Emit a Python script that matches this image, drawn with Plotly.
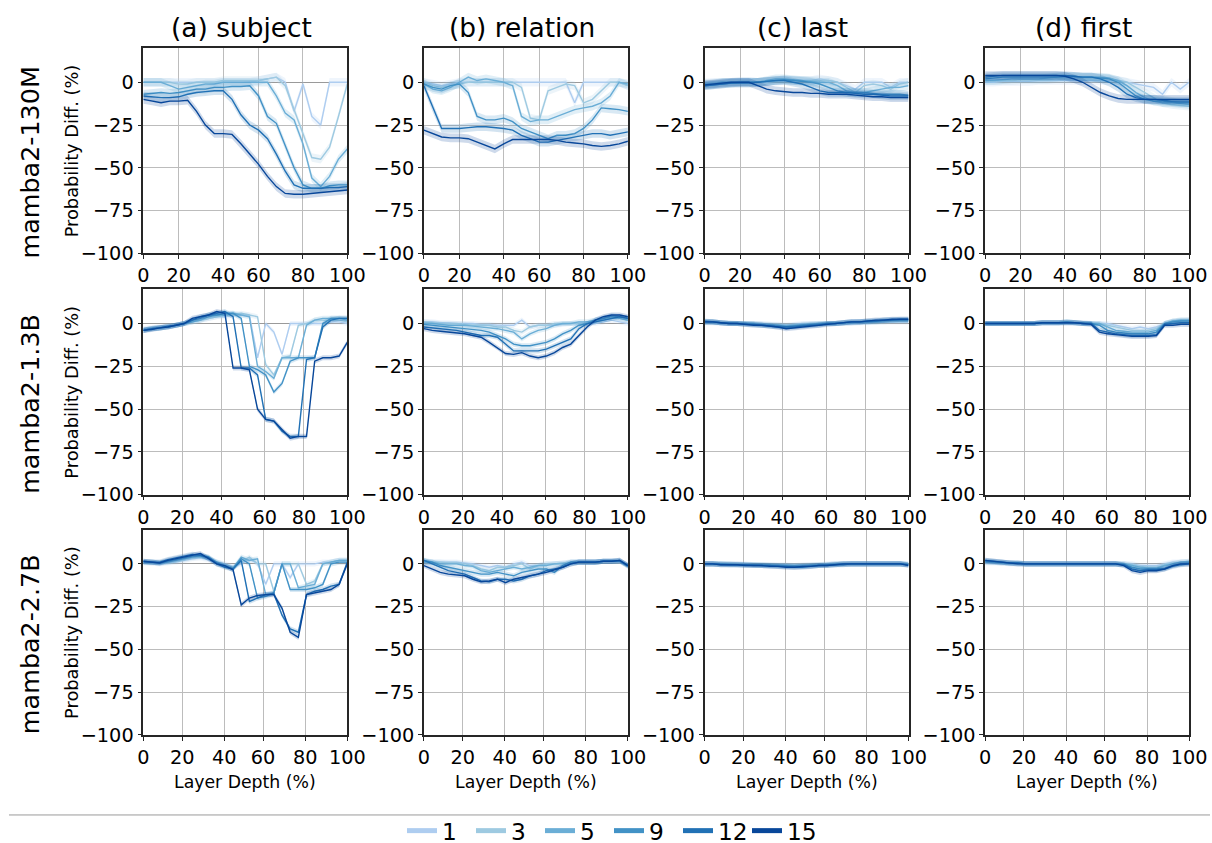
import plotly.graph_objects as go
from plotly.subplots import make_subplots

# ---------------- data ----------------
WINDOWS = ["1", "3", "5", "9", "12", "15"]
MODELS = ["mamba2-130M", "mamba2-1.3B", "mamba2-2.7B"]
TOKENS = ["(a) subject", "(b) relation", "(c) last", "(d) first"]
N_LAYERS = [24, 48, 64]
BAND = [2.5, 1.5, 1.5]   # half-width of the shaded band per model

# x positions (layer depth %) – 130M: every layer, larger models: read every 4 %
X_130M = [i / (N_LAYERS[0] - 1) * 100 for i in range(N_LAYERS[0])]
X_GRID = [0, 4, 8, 12, 16, 20, 24, 28, 32, 36, 40, 44, 48, 52, 56, 60, 64, 68, 72, 76, 80, 84, 88, 92, 96, 100]

SUBJECT_130M = {
    "1":  [0, 0, 0, 0, 0, 0, 0, 0, 0, 0, 0, 0, 0, 1, 2, 3, 0, -17, -1, -20, -25, 0, 0, 0],
    "3":  [0, 0, 0, 0, -1, -1, 0, 0, 0, 1, 1, 1, 1, 1, 2, 3, -2, -16, -30, -44, -45, -38, -20, -1],
    "5":  [0, 0, 0, -2, -4, -3, -2, -1, -1, 0, 0, 0, 0, 0, 0, -8, -18, -22, -36, -56, -61, -55, -45, -39],
    "9":  [-7, -6.5, -6, -6.5, -6, -5, -4, -4, -3, -3, -2.5, -2.5, -2, -8, -20, -24, -37, -50, -60, -62, -62, -60.5, -60, -60],
    "12": [-8, -8.5, -9, -9, -8.5, -7, -6, -5.5, -5, -5, -10, -19, -25, -28, -33, -42, -52, -60, -62, -62, -62, -61.5, -61.5, -61],
    "15": [-10, -11, -12, -11, -11, -10.5, -17, -25, -30, -30, -30.5, -36, -42, -48, -55, -61, -65, -65.5, -65.5, -65, -64.5, -64, -63.5, -63],
}
RELATION_130M = {
    "1":  [0, -1, -2, -1, 0, 0, 0, 0, 0, 0, 0, 0, 0, 0, 0, 0, 0, -12, 0, 0, 0, 0, 0, -2],
    "3":  [0, -2, -3, -2, -1, 0, 0, 0, 0, 0, 0, -3, -21, -22, -5, -3, -1, -2, -12, -10, -5, 0, 0, -2],
    "5":  [-1, -4, -5, -3, 0, 3, 1, 2, 1, 0, -2, -20, -23, -22, -22, -20, -18, -16, -15, -14, -12, -8, 0, -1],
    "9":  [-1, -3, -4, -2, -1, -6, -20, -22, -22, -21, -23, -27, -29, -31, -33, -31, -31, -30, -27, -22, -15, -15.5, -16, -17],
    "12": [-2, -15, -27, -27, -27, -26.5, -26, -26, -26.5, -27, -28, -31, -33, -35, -35, -34, -33, -32, -31, -30, -30, -31, -30, -29],
    "15": [-28, -30, -32, -32.5, -32.5, -33, -35, -37, -39, -36, -33.5, -33.5, -33.5, -33.5, -33.5, -34, -35, -35.5, -36, -37, -37.5, -37, -36, -34.5],
}
LAST_130M = {
    "1":  [-0.5, 0, 0, 0, 0.5, 0.5, 0, 0, 0.5, 1, 1, 1, 1, 2, 1, 0, -2, -4, 0, 0, 0, -3, 0, 0],
    "3":  [-1, -0.5, 0, 0, 0.5, 0.5, 0, 0.5, 1, 1.5, 1, 1, 1, 1, 1, 0, -3, -6, -2, -1, -2, -4, -1, 0],
    "5":  [-1, -1, 0, 0, 0, 0, 0, 1, 2, 2, 1.5, 1, 0.5, 0, 0, -2, -5, -6, -6, -5, -4, -3, -3, -2],
    "9":  [-2, -1.5, -1, -0.5, 0, 0, 0, 0.5, 1, 1.5, 1, 0.5, 0, -1, -3, -5, -6, -6, -6, -6.5, -7, -7, -7, -7.5],
    "12": [-2, -1.5, -1, -0.5, -0.5, -0.5, 0, 0.5, 1, 1, 0, -1, -3, -5, -6, -6, -6, -6.5, -7, -7, -7.5, -8, -8, -8],
    "15": [-1.5, -1, -0.5, 0, 0, 0, -2, -4, -5, -5.5, -6, -6, -6.5, -6.5, -7, -7, -7, -7.5, -8, -8.5, -8.5, -9, -9, -9],
}
FIRST_130M = {
    "1":  [0, 0, 0.5, 0.5, 0.5, 0.5, 1, 1, 1, 1, 1, 1, 1, 1, 1, 1, 0, -1, -2, -3, -7, 0, -4, 0],
    "3":  [1, 1, 1, 1, 1.5, 1.5, 1.5, 1.5, 2, 2, 2, 2, 2, 2, 2, 1, 0, -3, -6, -9, -12, -13, -13.5, -14],
    "5":  [1, 1, 1.5, 2, 2, 2, 2, 2.5, 3, 3, 3, 3, 3, 3, 2.5, 1, -2, -6, -9, -11, -12, -12, -12.5, -13],
    "9":  [2, 2.5, 3, 3, 3, 3, 3, 3, 3, 3.5, 3.5, 3, 3, 2.5, 2, 0, -4, -8, -10, -11, -11, -11.5, -12, -12],
    "12": [3, 3.5, 4, 4, 4, 4, 4, 4, 4, 4, 3.5, 3, 3, 2, 0, -3, -7, -9, -10, -10, -10.5, -11, -11, -11],
    "15": [4, 4, 4, 4, 4, 4, 4, 4, 4, 3.5, 2, 0, -3, -6, -8, -9.5, -10, -10, -10, -10, -10, -10, -10, -10],
}

SUBJECT_1_3B = {
    "1":  [-3, -2.5, -2, -1.5, -1, 0, 1, 2, 3, 4, 4, 5, 5, 5, -20, 0, -5, -18, 0, 0, 0, 0, 0, 1, 1, 0],
    "3":  [-3.5, -3, -2.5, -2, -1, 0, 1, 2, 3, 4, 5, 5, 6, 5, 4, -24, -30, -20, -19, -1, 0, 2, 2, 2, 2, 1],
    "5":  [-4, -3, -2.5, -2, -1, 0, 1, 2, 4, 5, 5, 6, 5, 4, -25, -28, -32, -20, -20, -20, -1, 2, 3, 3, 3, 2],
    "9":  [-4, -3, -2.5, -2, -1, 0, 2, 3, 5, 5, 6, 6, 3, -25, -27, -30, -40, -35, -22, -20, -20, -20, 0, 3, 3, 3],
    "12": [-4, -3, -2.5, -1.5, -1, 0, 2, 4, 5, 6, 7, 4, -26, -26, -30, -56, -57, -63, -66, -66, -21, -20, -2, 2, 3, 3],
    "15": [-4, -3.5, -2.5, -2, -1, 0, 3, 4, 5, 7, 6, -26, -26, -27, -50, -56, -57, -62, -67, -66, -66, -22, -20, -20, -19, -11],
}
RELATION_1_3B = {
    "1":  [1, 1, 0.5, 0.5, 0, 0, 0, -0.5, -0.5, -1, -1, -1, 2, -2, -1, -1, -1, -0.5, 0, 0, 0, 0, 1, 2, 1, 0],
    "3":  [1, 0.5, 0, 0, 0, -0.5, -1, -1, -1, -2, -2, -4, -5, -2, -1, -1, 0, 0, 0, 0, 0, 1, 2, 3, 3, 2],
    "5":  [0, 0, -0.5, -1, -1, -1, -1.5, -2, -2.5, -3, -4, -5, -9, -6, -4, -3, -1, 0, 0, 1, 1, 2, 3, 4, 3, 2],
    "9":  [-0.5, -1, -1.5, -2, -2.5, -3, -3.5, -4, -5, -7, -9, -12, -13, -13, -12, -11, -9, -6, -4, -1, 0, 2, 3, 4.5, 4, 3],
    "12": [-2, -2.5, -3, -3.5, -4, -5, -6, -7, -7, -8, -12, -16, -16, -16, -16, -15, -13, -11, -9, -3, 0, 1, 2, 3, 4, 3],
    "15": [-3, -4, -4.5, -5, -5.5, -6, -7, -8, -11, -14, -17.5, -18, -17, -19, -20, -19, -17, -14, -12, -7, -2, 2, 4, 5, 5, 4],
}
LAST_1_3B = {
    "1":  [0.5, 0.5, 0, 0, 0, 0, 0, 0, -0.5, -0.5, -1, -0.5, 0, 0, 0, 0, 0, 0, 0, 0.5, 0.5, 1, 1, 1, 1, 1],
    "3":  [0.5, 0.5, 0.5, 0, 0, 0, 0, -0.5, -0.5, -1, -1, -1, -0.5, 0, 0, 0, 0, 0, 0.5, 0.5, 1, 1, 1, 1.5, 1.5, 1.5],
    "5":  [1, 1, 0.5, 0.5, 0, 0, 0, -0.5, -1, -1, -1.5, -1, -1, -0.5, 0, 0, 0, 0.5, 0.5, 1, 1, 1, 1.5, 2, 2, 2],
    "9":  [1.5, 1, 0.5, 0, 0, 0, -0.5, -1, -1, -1.5, -2, -1.5, -1, -1, -0.5, 0, 0, 0.5, 1, 1, 1, 1.5, 2, 2, 2, 2],
    "12": [1, 1, 0.5, 0, 0, -0.5, -0.5, -1, -1.5, -2, -2, -2, -1.5, -1, -1, 0, 0, 0.5, 1, 1, 1.5, 1.5, 2, 2, 2.5, 2.5],
    "15": [1, 1, 0.5, 0, 0, -0.5, -1, -1, -1.5, -2, -3, -2.5, -2, -1.5, -1, -0.5, 0, 0.5, 1, 1, 1.5, 2, 2, 2.5, 2.5, 2.5],
}
FIRST_1_3B = {
    "1":  [0, 0, 0, 0, 0, 0, 0, 0.5, 0.5, 0.5, 0.5, 0.5, 0.5, 0, 0, 0, -1, -2, -3, -2, -3, -2, 0, 1, 1.5, 2],
    "3":  [0, 0, 0, 0, 0, 0, 0, 0.5, 0.5, 0.5, 1, 0.5, 0.5, 0, 0, -1, -2, -3, -4, -4, -4, -3, 0, 1.5, 2, 2],
    "5":  [0, 0, 0, 0, 0, 0, 0, 0.5, 0.5, 0.5, 1, 0.5, 0, 0, 0, -2, -4, -4.5, -5, -5, -5, -4, 0, 1.5, 2, 2],
    "9":  [0, 0, 0, 0, 0, 0, 0, 0.5, 0.5, 0.5, 1, 0.5, 0, 0, -1, -4, -5, -5.5, -6, -6, -6, -5, 0, 1, 1.5, 1.5],
    "12": [0, 0, 0, 0, 0, 0, 0, 0.5, 0.5, 0.5, 0.5, 0.5, 0, 0, -4, -5, -6, -6.5, -7, -7, -7, -6.5, -0.5, 0, 0.5, 0.5],
    "15": [0, 0, 0, 0, 0, 0, 0, 0.5, 0.5, 0.5, 0.5, 0.5, 0, -0.5, -5, -6, -6.5, -7, -7.5, -7.5, -7.5, -7, -1, -1, -0.5, -0.5],
}

SUBJECT_2_7B = {
    "1":  [0.5, 0.5, 0, 0.5, 1, 2, 3, 3.5, 2.5, 1, 0, -1.5, 0, 3, 0, -12, 0, 0, -8, 0, 0, 0, 1, 1, 2, 2],
    "3":  [1, 0.5, 0.5, 1, 1.5, 2.5, 3.5, 4, 3, 1, -0.5, -2, 1, 4, 0, 0, -16, 0, 0, 0, -12, -10, 0, 1, 2, 2],
    "5":  [1, 1, 0.5, 1, 2, 3, 4, 4.5, 3.5, 1, -1, -2.5, 4, 2, 3, -18, -17, 0, 0, -14, -13, -12, 0, 1, 2, 2],
    "9":  [1, 1, 0.5, 1.5, 2.5, 3.5, 4.5, 5, 4, 0.5, -1.5, -3, 3, 0, -20, -19, -17, 0, -15, -15, -15, -14, -12, 0, 1, 1],
    "12": [1.5, 1, 1, 2.5, 3.5, 4.5, 5.5, 5, 3.5, 0, -2, -3, 2, -22, -20, -18, -17.5, -30, -38, -40, -18, -16, -15, -13, -12, 1],
    "15": [1.5, 1, 0.5, 2, 3, 4, 5, 6, 3, 0, -1, -3.5, -24, -20, -18.5, -18, -18, -26, -40, -43, -18, -17, -16, -15, -12, 0],
}
RELATION_2_7B = {
    "1":  [1, 1, 1, 1, 1, 0.5, 0, -1, -2, -1, -2, 0, 1, -1, -1, 0, 0, 0.5, 1, 1, 1, 1, 1.5, 1.5, 1.5, -0.5],
    "3":  [1, 1, 1, 0.5, 0.5, 0, -1, -3, -4, -2, -2, -1, 0, -3, -1, 0, 0, 0.5, 1, 1, 1, 1, 1.5, 1.5, 1.5, -1],
    "5":  [1, 1, 0, 0, 0, -1, -1.5, -4, -5, -4, -3, -2, -3, -2, -1, -1, 0, 0, 0.5, 1, 1, 1, 1.5, 1.5, 1.5, -1],
    "9":  [2, 1, -1, -2, -3, -4, -5, -6, -6, -5, -6, -7, -5, -4, -3, -3, -5, -1, 1, 1, 1, 1, 1.5, 1.5, 1.5, -1.5],
    "12": [2, 0, -2, -4, -5, -6, -8, -10, -10.5, -9, -9, -10, -9, -7, -6, -4, -3, -2, 0, 1, 1, 1, 1.5, 1.5, 2, -1],
    "15": [-1, -3, -5, -6, -6.5, -7, -9, -10.5, -10, -9, -11, -9, -8, -7, -6, -5, -3.5, -2, 0, 1, 1, 1, 1.5, 1.5, 2, -1],
}
LAST_2_7B = {
    "1":  [0, 0, 0, 0, 0, 0, -0.5, -0.5, -0.5, -0.5, -0.5, -1, -0.5, -0.5, -0.5, 0, 0, 0, 0, 0, 0, 0, 0, 0, 0, 0],
    "3":  [0, 0, 0, 0, 0, -0.5, -0.5, -0.5, -0.5, -1, -1, -1, -1, -0.5, -0.5, -0.5, 0, 0, 0, 0, 0, 0, 0, 0, 0, 0],
    "5":  [0, 0, 0, 0, -0.5, -0.5, -0.5, -0.5, -1, -1, -1, -1, -1, -1, -0.5, -0.5, 0, 0, 0, 0, 0, 0, 0, 0, 0, -0.5],
    "9":  [0, 0, 0, -0.5, -0.5, -0.5, -0.5, -1, -1, -1, -1.5, -1.5, -1.5, -1, -1, -0.5, -0.5, 0, 0, 0, 0, 0, 0, 0, 0, -0.5],
    "12": [0, 0, -0.5, -0.5, -0.5, -0.5, -1, -1, -1, -1.5, -1.5, -2, -2, -1.5, -1, -1, -0.5, -0.5, 0, 0, 0, 0, 0, 0, 0, -0.5],
    "15": [0, 0, -0.5, -0.5, -0.5, -1, -1, -1, -1.5, -1.5, -2, -2, -1.5, -1.5, -1, -1, -0.5, 0, 0, 0, 0, 0, 0, 0, 0, -1],
}
FIRST_2_7B = {
    "1":  [0.5, 0.5, 0.5, 0, 0, 0, 0, 0, 0, 0, 0, 0, 0, 0, 0, 0, 0, 0, 0, -1, -1, -1, 0, 1, 1, 1.5],
    "3":  [1, 1, 0.5, 0.5, 0, 0, 0, 0, 0, 0, 0, 0, 0, 0, 0, 0, 0, 0, -0.5, -1.5, -2, -2, -0.5, 0.5, 1, 1.5],
    "5":  [1, 1, 0.5, 0.5, 0.5, 0, 0, 0, 0, 0, 0, 0, 0, 0, 0, 0, 0, 0, -1, -2, -2.5, -2.5, -1, 0, 1, 1],
    "9":  [1.5, 1, 1, 0.5, 0.5, 0, 0, 0, 0, 0, 0, 0, 0, 0, 0, 0, 0, -0.5, -2, -3, -3, -3, -2.5, -1, 0, 0.5],
    "12": [2, 1.5, 1, 0.5, 0.5, 0, 0, 0, 0, 0, 0, 0, 0, 0, 0, 0, 0, -0.5, -3, -4, -3.5, -3.5, -3, -1.5, -0.5, 0],
    "15": [2, 1.5, 1, 0.5, 0, 0, 0, 0, 0, 0, 0, 0, 0, 0, 0, 0, 0, -1, -4, -5, -4, -4, -3, -1, 0, 0],
}

PANELS = [
    [SUBJECT_130M, RELATION_130M, LAST_130M, FIRST_130M],
    [SUBJECT_1_3B, RELATION_1_3B, LAST_1_3B, FIRST_1_3B],
    [SUBJECT_2_7B, RELATION_2_7B, LAST_2_7B, FIRST_2_7B],
]
ROW_X = [X_130M, X_GRID, X_GRID]

# ---------------- style ----------------
COLORS = {"1": "#aecdf0", "3": "#9ecae1", "5": "#6baed6", "9": "#4292c6", "12": "#2171b5", "15": "#08479a"}
FONT = "DejaVu Sans"
W, H = 1212, 843          # design coordinates (reference pixels)
S = 1.015                 # rendering scale compensation
OUT_W, OUT_H = round(W * S), round(H * S)
COL_LEFT = [138, 420, 702, 984]
ROW_TOP = [48, 289, 529]
PW = 205
PH = 205


def fs(v):
    return round(v * S, 1)


def rgba(hexc, a):
    hexc = hexc.lstrip("#")
    r, g, b = int(hexc[0:2], 16), int(hexc[2:4], 16), int(hexc[4:6], 16)
    return f"rgba({r},{g},{b},{a})"


fig = make_subplots(rows=3, cols=4)

for r in range(3):
    for c in range(4):
        panel = PANELS[r][c]
        for w in WINDOWS:
            ys = panel[w]
            xs = ROW_X[r][:len(ys)]
            ys = ys[:len(xs)]
            up = [v + BAND[r] for v in ys]
            lo = [v - BAND[r] for v in ys]
            fig.add_trace(go.Scatter(x=list(xs) + list(xs)[::-1], y=up + lo[::-1], fill="toself",
                                     fillcolor=rgba(COLORS[w], 0.2), line=dict(width=0),
                                     hoverinfo="skip", showlegend=False, mode="lines"),
                          row=r + 1, col=c + 1)
            fig.add_trace(go.Scatter(x=xs, y=ys, mode="lines",
                                     line=dict(color=COLORS[w], width=1.4),
                                     showlegend=False, name=w, hoverinfo="skip"),
                          row=r + 1, col=c + 1)

# legend-only traces (thick swatches)
for w in WINDOWS:
    fig.add_trace(go.Scatter(x=[None], y=[None], mode="lines", name=w,
                             line=dict(color=COLORS[w], width=5), showlegend=True),
                  row=1, col=1)

ann = []
for r in range(3):
    n = N_LAYERS[r]
    tick_layers = [int(k * 0.2 * (n - 1)) for k in range(5)] + [n - 1]
    tickvals = [t / (n - 1) * 100 for t in tick_layers]
    for c in range(4):
        idx = r * 4 + c + 1
        xa = "xaxis" if idx == 1 else f"xaxis{idx}"
        ya = "yaxis" if idx == 1 else f"yaxis{idx}"
        L, T = COL_LEFT[c], ROW_TOP[r]
        fig.layout[xa].update(
            domain=[L / W, (L + PW) / W], range=[0, 100],
            tickvals=tickvals, ticktext=["0", "20", "40", "60", "80", "100"],
            showgrid=True, gridcolor="#bcbcbc", gridwidth=1, zeroline=False,
            showline=True, linecolor="#262626", linewidth=1.6, mirror=True,
            ticks="outside", ticklen=4, tickcolor="#262626", tickwidth=1.2,
            tickfont=dict(family=FONT, size=fs(19), color="black"))
        fig.layout[ya].update(
            domain=[1 - (T + PH) / H, 1 - T / H], range=[-100, 20],
            tickvals=[-100, -75, -50, -25, 0],
            ticktext=["\u2212100", "\u221275", "\u221250", "\u221225", "0"],
            showgrid=True, gridcolor="#bcbcbc", gridwidth=1,
            zeroline=True, zerolinecolor="#9a9a9a", zerolinewidth=1.3,
            showline=True, linecolor="#262626", linewidth=1.6, mirror=True,
            ticks="outside", ticklen=4, tickcolor="#262626", tickwidth=1.2,
            tickfont=dict(family=FONT, size=fs(19), color="black"))

# column titles and x titles
for c in range(4):
    ann.append(dict(text=TOKENS[c], x=(COL_LEFT[c] + PW / 2 - 4) / W, y=1 - 27 / H,
                    xref="paper", yref="paper", showarrow=False,
                    xanchor="center", yanchor="middle",
                    font=dict(family=FONT, size=fs(26), color="black")))
    ann.append(dict(text="Layer Depth (%)", x=(COL_LEFT[c] + PW / 2) / W, y=1 - 781 / H,
                    xref="paper", yref="paper", showarrow=False,
                    xanchor="center", yanchor="middle",
                    font=dict(family=FONT, size=fs(17), color="black")))
# row labels and y titles
for r in range(3):
    ann.append(dict(text=MODELS[r], x=24 / W, y=1 - (ROW_TOP[r] + PH / 2 + 12) / H,
                    xref="paper", yref="paper", showarrow=False, textangle=-90,
                    xanchor="center", yanchor="middle",
                    font=dict(family=FONT, size=fs(25), color="black")))
    ann.append(dict(text="Probability Diff. (%)", x=66 / W, y=1 - (ROW_TOP[r] + PH / 2) / H,
                    xref="paper", yref="paper", showarrow=False, textangle=-90,
                    xanchor="center", yanchor="middle",
                    font=dict(family=FONT, size=fs(17.5), color="black")))

fig.update_layout(
    width=OUT_W, height=OUT_H, margin=dict(l=0, r=0, t=0, b=0),
    paper_bgcolor="white", plot_bgcolor="white",
    font=dict(family=FONT, color="black"),
    annotations=ann, hovermode=False,
    shapes=[dict(type="line", xref="paper", yref="paper", x0=3 / W, x1=1210 / W,
                 y0=1 - 814 / H, y1=1 - 814 / H, line=dict(color="#9a9a9a", width=1))],
    legend=dict(orientation="h", x=0.5, xanchor="center", y=1 - 830 / H, yanchor="middle",
                font=dict(family=FONT, size=fs(23), color="black"), entrywidth=24,
                itemwidth=30, tracegroupgap=0, bgcolor="rgba(0,0,0,0)"),
    showlegend=True,
)

POST = (
    "document.documentElement.style.margin='0';"
    "document.body.style.margin='0';document.body.style.padding='0';"
    "document.body.style.overflow='hidden';"
)

fig.write_html("out.html", config={"displayModeBar": False}, post_script=POST)
